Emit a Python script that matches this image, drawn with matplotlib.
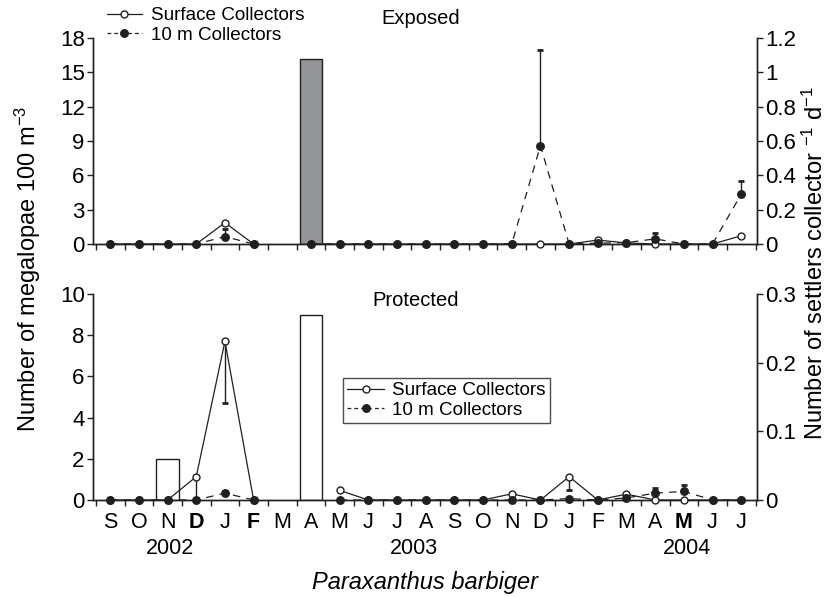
import matplotlib
matplotlib.use('Agg')
import matplotlib.pyplot as plt
import numpy as np
from matplotlib.lines import Line2D

plt.rcParams['font.family'] = ['Liberation Sans', 'DejaVu Sans']
plt.rcParams['mathtext.fontset'] = 'custom'
plt.rcParams['mathtext.rm'] = 'Liberation Sans'
plt.rcParams['mathtext.it'] = 'Liberation Sans:italic'
plt.rcParams['mathtext.bf'] = 'Liberation Sans:bold'

nan = np.nan
months = ['S', 'O', 'N', 'D', 'J', 'F', 'M', 'A', 'M', 'J', 'J', 'A',
          'S', 'O', 'N', 'D', 'J', 'F', 'M', 'A', 'M', 'J', 'J']
bold_months = [3, 5, 20]
years = ['2002', '2003', '2004']
year_pos = [2.1, 10.6, 20.1]

# Megalopae (left axis, bars)
exp_megalopae = [0, 0, 0, 0, 0, 0, 0, 16.2, 0, 0, 0, 0, 0, 0, 0, 0, 0, 0, 0, 0, 0, 0, 0]
pro_megalopae = [0, 0, 2.0, 0, 0, 0, 0, 9.0, 0, 0, 0, 0, 0, 0, 0, 0, 0, 0, 0, 0, 0, 0, 0]

# Settlers (right axis)
exp_surface = [0, 0, 0, 0, 0.124, 0, nan, 0, 0, 0, 0, 0, 0, 0, 0, 0, 0, 0.023, 0.006, 0, 0, 0, 0.048]
exp_surface_err = [0] * 23
exp_10m = [0, 0, 0, 0, 0.043, 0, nan, 0, 0, 0, 0, 0, 0, 0, 0, 0.573, 0, 0.005, 0.008, 0.03, 0, 0, 0.29]
exp_10m_err = [0, 0, 0, 0, 0.042, 0, 0, 0, 0, 0, 0, 0, 0, 0, 0, 0.56, 0, 0, 0, 0.036, 0, 0, 0.077]

pro_surface = [0, 0, 0, 0.034, 0.231, 0, nan, nan, 0.014, 0, 0, 0, 0, 0, 0.009, 0, 0.034, 0, 0.0085, 0, 0, 0, 0]
pro_surface_err = [0, 0, 0, 0.031, 0.09, 0, 0, 0, 0, 0, 0, 0, 0, 0, 0, 0, 0.019, 0, 0, 0, 0, 0, 0]
pro_10m = [0, 0, 0, 0, 0.01, 0, nan, nan, 0, 0, 0, 0, 0, 0, 0, 0, 0.002, 0, 0.003, 0.01, 0.0125, 0, 0]
pro_10m_err = [0, 0, 0, 0, 0.003, 0, 0, 0, 0, 0, 0, 0, 0, 0, 0, 0, 0, 0, 0, 0.0075, 0.01, 0, 0]

W, H = 827, 597
fig = plt.figure(figsize=(W / 100, H / 100), dpi=100)
INK = '#231f20'


def px_axes(left, top, right, bottom):
    return fig.add_axes([left / W, 1 - bottom / H, (right - left) / W, (bottom - top) / H])


ax_top = px_axes(93, 38, 757, 244)
ax_bot = px_axes(93, 294, 757, 500)

x = np.arange(len(months))
xlim = (-0.6, 22.55)
FS = 16
FS_X = 15.5


def style_panel(ax, ax2, ylim_l, yticks_l, ylim_r, yticks_r, yticklabels_r, show_labels):
    ax.set_xlim(*xlim)
    ax.set_ylim(*ylim_l)
    ax.set_yticks(yticks_l)
    ax.set_yticklabels([str(v) for v in yticks_l], fontsize=FS)
    ax2.set_ylim(*ylim_r)
    ax2.set_yticks(yticks_r)
    ax2.set_yticklabels(yticklabels_r, fontsize=FS)
    for a in (ax, ax2):
        a.spines['top'].set_visible(False)
        for s in a.spines.values():
            s.set_linewidth(1.0)
            s.set_color(INK)
    ax.set_xticks(np.arange(-0.5, 23, 1), minor=True)
    ax.tick_params(axis='x', which='minor', direction='out', length=4, width=1, color=INK)
    ax.tick_params(axis='y', direction='out', length=4, width=1, pad=2, color=INK)
    ax2.tick_params(axis='y', direction='out', length=4, width=1, pad=2, color=INK)
    ax.set_xticks(x)
    ax.tick_params(axis='x', which='major', length=0, pad=9)
    if show_labels:
        labels = ax.set_xticklabels(months, fontsize=FS_X)
        for i in bold_months:
            labels[i].set_fontweight('bold')
    else:
        ax.set_xticklabels([])


def draw_lines(ax2, surf, surf_err, deep, deep_err):
    surf = np.array(surf, dtype=float)
    deep = np.array(deep, dtype=float)
    se = np.array(surf_err, dtype=float)
    de = np.array(deep_err, dtype=float)
    # error bars: surface downward, 10 m upward
    m = se > 0
    ax2.errorbar(x[m], surf[m], yerr=[se[m], np.zeros(m.sum())], fmt='none',
                 ecolor=INK, elinewidth=1.0, capsize=2, capthick=2, zorder=3)
    m = de > 0
    ax2.errorbar(x[m], deep[m], yerr=[np.zeros(m.sum()), de[m]], fmt='none',
                 ecolor=INK, elinewidth=1.0, capsize=2, capthick=2, zorder=3)
    ax2.plot(x, surf, '-', color=INK, lw=0.9, marker='o', ms=5,
             mfc='white', mec=INK, mew=1.0, zorder=4, clip_on=False)
    ax2.plot(x, deep, '--', color=INK, lw=0.9, dashes=(6, 5), marker='o', ms=5.4,
             mfc=INK, mec=INK, zorder=5, clip_on=False)


# ---- Exposed ----
ax2_top = ax_top.twinx()
em = np.array(exp_megalopae)
sel = em > 0
ax_top.bar(x[sel], em[sel], width=0.8, color='#939598', edgecolor=INK, lw=1.0, zorder=2)
draw_lines(ax2_top, exp_surface, exp_surface_err, exp_10m, exp_10m_err)
style_panel(ax_top, ax2_top, (0, 18), [0, 3, 6, 9, 12, 15, 18], (0, 1.2),
            [0, 0.2, 0.4, 0.6, 0.8, 1.0, 1.2], ['0', '0.2', '0.4', '0.6', '0.8', '1', '1.2'], False)

# ---- Protected ----
ax2_bot = ax_bot.twinx()
pm = np.array(pro_megalopae)
sel = pm > 0
ax_bot.bar(x[sel], pm[sel], width=0.8, color='white', edgecolor=INK, lw=1.0, zorder=2)
draw_lines(ax2_bot, pro_surface, pro_surface_err, pro_10m, pro_10m_err)
style_panel(ax_bot, ax2_bot, (0, 10), [0, 2, 4, 6, 8, 10], (0, 0.3),
            [0, 0.1, 0.2, 0.3], ['0', '0.1', '0.2', '0.3'], True)

# Legends
handles = [Line2D([], [], color=INK, lw=0.9, marker='o', ms=5, mfc='white', mec=INK),
           Line2D([], [], color=INK, lw=0.9, ls='--', dashes=(3, 2.5), marker='o', ms=5.4,
                  mfc=INK, mec=INK)]
names = ['Surface Collectors', '10 m Collectors']
LFS = 13.6
fig.legend(handles, names, loc='upper left', bbox_to_anchor=(107 / W, 1 - 7 / H), frameon=False,
           fontsize=LFS, handlelength=1.85, handletextpad=0.5, labelspacing=0.12, borderpad=0,
           borderaxespad=0)
leg = ax2_bot.legend(handles, names, loc='upper left', bbox_to_anchor=(343 / W, 1 - 378 / H),
                     bbox_transform=fig.transFigure, frameon=True, fancybox=False, fontsize=LFS,
                     handlelength=1.95, handletextpad=0.42, labelspacing=0.12, borderpad=0.22,
                     borderaxespad=0)
leg.get_frame().set_edgecolor(INK)
leg.get_frame().set_linewidth(1.0)

# Panel titles
fig.text(421 / W, 1 - 18 / H, 'Exposed', ha='center', va='center', fontsize=14.5)
fig.text(416 / W, 1 - 300 / H, 'Protected', ha='center', va='center', fontsize=14.5)

# Years
for yr, p in zip(years, year_pos):
    ax_bot.text(p, -(548 - 500) / 206, yr, transform=ax_bot.get_xaxis_transform(), ha='center',
                va='center', fontsize=FS_X)

# Axis labels
fig.text(28 / W, 1 - 269 / H, 'Number of megalopae 100 m$^{-3}$', rotation=90,
         ha='center', va='center', fontsize=17)
fig.text(815 / W, 1 - 263 / H, 'Number of settlers collector $^{-1}$ d$^{-1}$', rotation=90,
         ha='center', va='center', fontsize=17)
fig.text(425 / W, 1 - 582 / H, 'Paraxanthus barbiger', style='italic', ha='center', va='center',
         fontsize=17)

fig.savefig('out.png', dpi=100)
